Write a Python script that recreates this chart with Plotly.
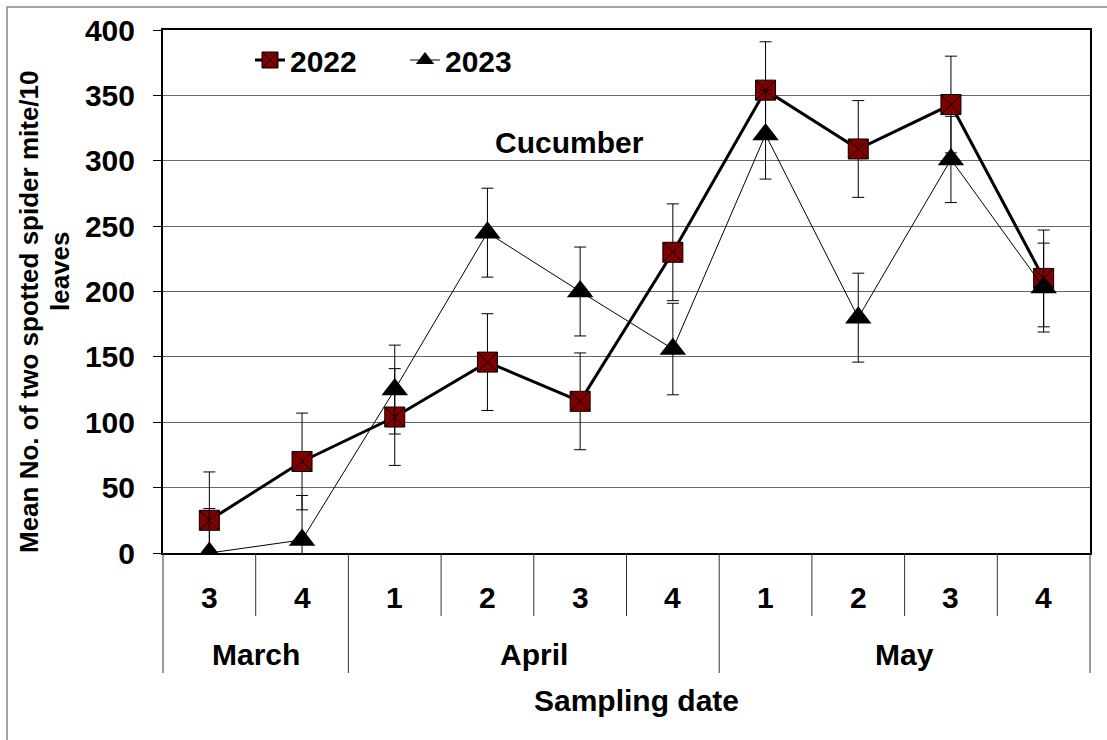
import plotly.graph_objects as go

months = ["March", "March", "April", "April", "April", "April", "May", "May", "May", "May"]
weeks = ["3", "4", "1", "2", "3", "4", "1", "2", "3", "4"]
y2022 = [25, 70, 104, 146, 116, 230, 354, 309, 343, 210]
err2022 = [37, 37, 37, 37, 37, 37, 37, 37, 37, 37]
y2023 = [0, 10, 125, 245, 200, 156, 320, 180, 301, 203]
err2023 = [34, 34, 34, 34, 34, 35, 34, 34, 33, 34]
yticks = [0, 50, 100, 150, 200, 250, 300, 350, 400]

FONT = "Liberation Sans, Arial, sans-serif"
TXT = 30
x = list(range(len(weeks)))

fig = go.Figure()
fig.add_trace(go.Scatter(
    x=x, y=y2022, name="2022", mode="lines+markers",
    line=dict(color="black", width=3),
    marker=dict(symbol="square-x", size=20, color="#800000",
                line=dict(color="black", width=1)),
    error_y=dict(type="data", array=err2022, visible=True,
                 color="black", thickness=1, width=6),
))
fig.add_trace(go.Scatter(
    x=x, y=y2023, name="2023", mode="lines+markers",
    line=dict(color="black", width=1),
    marker=dict(symbol="triangle-up", size=23, color="black",
                line=dict(color="black", width=0)),
    error_y=dict(type="data", array=err2023, visible=True,
                 color="black", thickness=1, width=6),
))

L, R, T, B = 163, 1090, 30, 553
W, H = R - L, B - T
def px(v):
    return (v - L) / W
def py(v):
    return (B - v) / H

shapes = []
n = len(weeks)
# category dividers
for b in range(n + 1):
    xp = b / n
    full = b == 0 or b == n or months[b] != months[b - 1]
    shapes.append(dict(type="line", xref="paper", yref="paper",
                       x0=xp, x1=xp, y0=0, y1=py(673 if full else 616),
                       line=dict(color="#333333", width=1)))
# outer frame
shapes.append(dict(type="rect", xref="paper", yref="paper",
                   x0=px(7), x1=px(1130), y0=py(7), y1=py(760),
                   line=dict(color="#888888", width=1.5)))

def f(size):
    return dict(family=FONT, size=size, weight="bold", color="black")

annotations = []
for i, w in enumerate(weeks):
    annotations.append(dict(x=i, xref="x", y=py(597), yref="paper", text=w,
                            showarrow=False, yanchor="middle", font=f(TXT)))
groups = []
for i, m in enumerate(months):
    if not groups or groups[-1][0] != m:
        groups.append([m, i, i])
    else:
        groups[-1][2] = i
for m, a, b in groups:
    annotations.append(dict(x=(a + b) / 2, xref="x", y=py(654), yref="paper", text=m,
                            showarrow=False, yanchor="middle", font=f(TXT)))
annotations.append(dict(x=px(636), xref="paper", y=py(700), yref="paper",
                        text="Sampling date", showarrow=False, yanchor="middle",
                        font=f(TXT)))
annotations.append(dict(x=px(29), xref="paper", y=py(312), yref="paper",
                        text="Mean No. of two spotted spider mite/10", textangle=-90,
                        showarrow=False, xanchor="center", yanchor="middle",
                        font=f(26)))
annotations.append(dict(x=px(60), xref="paper", y=py(271), yref="paper",
                        text="leaves", textangle=-90,
                        showarrow=False, xanchor="center", yanchor="middle",
                        font=f(26)))
annotations.append(dict(x=px(569), xref="paper", y=py(142), yref="paper",
                        text="Cucumber", showarrow=False, yanchor="middle",
                        font=f(TXT)))

fig.update_layout(
    width=1107, height=740,
    margin=dict(l=L, r=1107 - R, t=T, b=740 - B),
    paper_bgcolor="white", plot_bgcolor="white",
    showlegend=True,
    legend=dict(orientation="h", x=px(250), y=py(60), xanchor="left", yanchor="middle",
                bgcolor="rgba(0,0,0,0)", font=f(TXT),
                itemwidth=30, entrywidth=110),
    xaxis=dict(range=[-0.5, n - 0.5], showticklabels=False, ticks="",
               showgrid=False, zeroline=False, showline=True, linecolor="black",
               linewidth=2, mirror=True),
    yaxis=dict(range=[0, 400], tickvals=yticks, ticks="outside", ticklen=8,
               tickcolor="black", tickwidth=1, showgrid=True, gridcolor="#666666",
               gridwidth=1, zeroline=False, showline=True, linecolor="black",
               linewidth=2, mirror=True, ticklabelstandoff=12,
               tickfont=f(TXT)),
    shapes=shapes, annotations=annotations,
)

fig.write_html("out.html")
